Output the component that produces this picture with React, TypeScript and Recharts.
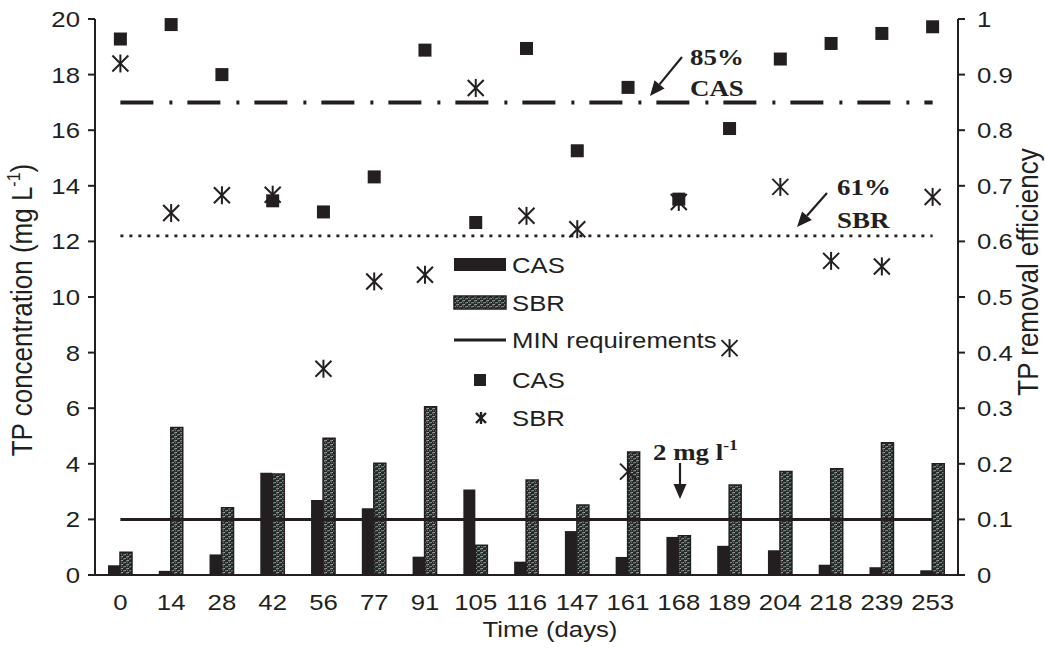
import React from 'react';
import {
  ComposedChart,
  Bar,
  Line,
  Scatter,
  XAxis,
  YAxis,
  ReferenceLine,
  Legend,
  Customized,
} from 'recharts';

const days = ['0', '14', '28', '42', '56', '77', '91', '105', '116', '147', '161', '168', '189', '204', '218', '239', '253'];
const casConc = [0.35, 0.15, 0.74, 3.68, 2.7, 2.4, 0.66, 3.08, 0.48, 1.58, 0.65, 1.37, 1.05, 0.89, 0.37, 0.28, 0.17];
const sbrConc = [0.82, 5.31, 2.42, 3.63, 4.92, 4.02, 6.05, 1.07, 3.42, 2.52, 4.42, 1.41, 3.24, 3.72, 3.82, 4.76, 4.0];
const minReq = [2, 2, 2, 2, 2, 2, 2, 2, 2, 2, 2, 2, 2, 2, 2, 2, 2];
const casEff = [0.964, 0.99, 0.9, 0.673, 0.653, 0.716, 0.944, 0.634, 0.947, 0.763, 0.877, 0.676, 0.803, 0.928, 0.956, 0.974, 0.986];
const sbrEff = [0.92, 0.651, 0.683, 0.684, 0.371, 0.528, 0.54, 0.876, 0.646, 0.622, 0.186, 0.671, 0.408, 0.698, 0.565, 0.555, 0.68];
const leftTicks = [0, 2, 4, 6, 8, 10, 12, 14, 16, 18, 20];
const rightTicks = [0, 0.1, 0.2, 0.3, 0.4, 0.5, 0.6, 0.7, 0.8, 0.9, 1];
const rightTickLabels = ['0', '0.1', '0.2', '0.3', '0.4', '0.5', '0.6', '0.7', '0.8', '0.9', '1'];
const casTarget = 0.85;
const sbrTarget = 0.61;

const data = days.map((d, i) => ({
  day: d,
  casConc: casConc[i],
  sbrConc: sbrConc[i],
  minReq: minReq[i],
  casEff: casEff[i],
  sbrEff: sbrEff[i],
}));

const INK = '#231f20';
const SANS = '"Liberation Sans", Arial, Helvetica, sans-serif';
const SERIF = '"Liberation Serif", "Times New Roman", serif';
const SX = 1.17;

const STxt = ({ x, y, anchor = 'start', size = 22, bold = false, serif = false, children }: any) => (
  <g transform={`translate(${x},${y}) scale(${SX},1)`}>
    <text
      x={0}
      y={0}
      textAnchor={anchor}
      fontSize={size}
      fontWeight={bold ? 'bold' : 'normal'}
      fontFamily={serif ? SERIF : SANS}
      fill={INK}
    >
      {children}
    </text>
  </g>
);

const LeftTick = ({ x, y, payload }: any) => (
  <STxt x={x} y={y + 8} anchor="end">
    {String(payload.value)}
  </STxt>
);

const RightTick = ({ x, y, payload, index }: any) => (
  <STxt x={x} y={y + 8} anchor="start">
    {rightTickLabels[index] ?? String(payload.value)}
  </STxt>
);

const BottomTick = ({ x, y, payload }: any) => (
  <STxt x={x} y={y + 7} anchor="middle">
    {payload.value}
  </STxt>
);

const Square = ({ cx, cy }: any) =>
  cx == null ? null : <rect x={cx - 6.5} y={cy - 6.5} width={13} height={13} fill={INK} />;

const Asterisk = ({ cx, cy }: any) =>
  cx == null ? null : (
    <g stroke={INK} strokeWidth={2}>
      <line x1={cx} y1={cy - 9} x2={cx} y2={cy + 9} />
      <line x1={cx - 8} y1={cy - 8} x2={cx + 8} y2={cy + 8} />
      <line x1={cx - 8} y1={cy + 8} x2={cx + 8} y2={cy - 8} />
    </g>
  );

const Arrow = ({ x1, y1, x2, y2 }: any) => {
  const dx = x2 - x1;
  const dy = y2 - y1;
  const len = Math.sqrt(dx * dx + dy * dy);
  const ux = dx / len;
  const uy = dy / len;
  const hl = 15;
  const hw = 6.5;
  const bx = x2 - ux * hl;
  const by = y2 - uy * hl;
  const px = -uy;
  const py = ux;
  return (
    <g>
      <line x1={x1} y1={y1} x2={bx} y2={by} stroke={INK} strokeWidth={2.2} />
      <polygon
        points={`${x2},${y2} ${bx + px * hw},${by + py * hw} ${bx - px * hw},${by - py * hw}`}
        fill={INK}
      />
    </g>
  );
};

const Annotations = () => (
  <g>
    <STxt x={690} y={65} size={23} bold serif>85%</STxt>
    <STxt x={690} y={96} size={23} bold serif>CAS</STxt>
    <Arrow x1={682} y1={57} x2={650} y2={96} />
    <STxt x={837} y={195} size={23} bold serif>61%</STxt>
    <STxt x={837} y={228} size={23} bold serif>SBR</STxt>
    <Arrow x1={827} y1={193} x2={797} y2={227} />
    <g transform={`translate(653,460) scale(${SX},1)`}>
      <text x={0} y={0} fontSize={23} fontWeight="bold" fontFamily={SERIF} fill={INK}>
        2 mg l
        <tspan fontSize={15} dy={-10}>-1</tspan>
      </text>
    </g>
    <Arrow x1={680} y1={463} x2={680} y2={499} />
  </g>
);

const LeftLabel = () => (
  <g transform={`translate(32,310) scale(${SX},1) rotate(-90)`}>
    <text x={0} y={0} textAnchor="middle" fontSize={26} fontFamily={SANS} fill={INK}>
      TP concentration (mg L
      <tspan fontSize={16} dy={-10}>-1</tspan>
      <tspan dy={10}>)</tspan>
    </text>
  </g>
);

const RightLabel = () => (
  <g transform={`translate(1038,272) scale(${SX},1) rotate(-90)`}>
    <text x={0} y={0} textAnchor="middle" fontSize={26} fontFamily={SANS} fill={INK}>
      TP removal efficiency
    </text>
  </g>
);

const BottomLabel = () => <STxt x={550} y={637} anchor="middle" size={22}>Time (days)</STxt>;

const LegendBox = () => (
  <svg width={320} height={190} style={{ overflow: 'visible' }}>
    <rect x={4} y={10} width={52} height={13} fill={INK} />
    <STxt x={62} y={25}>CAS</STxt>
    <rect x={4} y={48} width={52} height={13} fill="url(#sbrHatch)" stroke={INK} strokeWidth={1.5} />
    <STxt x={62} y={63}>SBR</STxt>
    <line x1={4} y1={92} x2={56} y2={92} stroke={INK} strokeWidth={3} />
    <STxt x={62} y={100}>MIN requirements</STxt>
    <rect x={24} y={126} width={12} height={12} fill={INK} />
    <STxt x={62} y={140}>CAS</STxt>
    <g stroke={INK} strokeWidth={2.4}>
      <line x1={31} y1={164} x2={31} y2={176} />
      <line x1={26} y1={165} x2={36} y2={175} />
      <line x1={26} y1={175} x2={36} y2={165} />
    </g>
    <STxt x={62} y={178}>SBR</STxt>
  </svg>
);

export default function App() {
  return (
    <div style={{ position: 'absolute', left: 0, top: 0, width: 1045, height: 648, background: '#fff' }}>
      <svg width={0} height={0} style={{ position: 'absolute' }}>
        <defs>
          <pattern id="sbrHatch" patternUnits="userSpaceOnUse" width={6} height={4}>
            <rect x={0} y={0} width={6} height={4} fill="#262626" />
            <path d="M0,1 L3,0.5" stroke="#bdbdbd" strokeWidth={0.9} />
            <path d="M3,3 L6,2.5" stroke="#7fb3a8" strokeWidth={0.9} />
            <path d="M1,2.6 L2,2.6" stroke="#c97a7a" strokeWidth={0.7} />
          </pattern>
        </defs>
      </svg>
      <ComposedChart
        width={1045}
        height={648}
        data={data}
        margin={{ top: 19, right: 0, bottom: 0, left: 0 }}
        barGap={0}
      >
        <XAxis
          dataKey="day"
          xAxisId={0}
          height={73}
          tickLine={false}
          tickSize={0}
          tickMargin={28}
          axisLine={{ stroke: INK, strokeWidth: 2 }}
          tick={<BottomTick />}
          interval={0}
        />
        <YAxis
          yAxisId="left"
          orientation="left"
          width={95}
          domain={[0, 20]}
          ticks={leftTicks}
          interval={0}
          tickSize={7}
          tickMargin={8}
          tickLine={{ stroke: INK, strokeWidth: 2 }}
          axisLine={{ stroke: INK, strokeWidth: 2 }}
          tick={<LeftTick />}
        />
        <YAxis
          yAxisId="right"
          orientation="right"
          width={87}
          domain={[0, 1]}
          ticks={rightTicks}
          interval={0}
          tickSize={7}
          tickMargin={12}
          tickLine={{ stroke: INK, strokeWidth: 2 }}
          axisLine={{ stroke: INK, strokeWidth: 2 }}
          tick={<RightTick />}
        />
        <Bar yAxisId="left" dataKey="casConc" name="CAS" fill={INK} barSize={12} isAnimationActive={false} />
        <Bar
          yAxisId="left"
          dataKey="sbrConc"
          name="SBR"
          fill="url(#sbrHatch)"
          stroke={INK}
          strokeWidth={1.5}
          barSize={12}
          isAnimationActive={false}
        />
        <Line
          yAxisId="left"
          dataKey="minReq"
          name="MIN requirements"
          stroke={INK}
          strokeWidth={3}
          dot={false}
          activeDot={false}
          type="linear"
          isAnimationActive={false}
        />
        <ReferenceLine
          yAxisId="right"
          segment={[{ x: days[0], y: casTarget }, { x: days[days.length - 1], y: casTarget }]}
          stroke={INK}
          strokeWidth={4}
          strokeDasharray="33 16 3 15"
        />
        <ReferenceLine
          yAxisId="right"
          segment={[{ x: days[0], y: sbrTarget }, { x: days[days.length - 1], y: sbrTarget }]}
          stroke={INK}
          strokeWidth={2.6}
          strokeDasharray="3 6"
        />
        <Scatter yAxisId="right" dataKey="casEff" name="CAS" shape={<Square />} isAnimationActive={false} />
        <Scatter yAxisId="right" dataKey="sbrEff" name="SBR" shape={<Asterisk />} isAnimationActive={false} />
        <Customized component={<Annotations />} />
        <Customized component={<LeftLabel />} />
        <Customized component={<RightLabel />} />
        <Customized component={<BottomLabel />} />
        <Legend
          layout="vertical"
          align="center"
          verticalAlign="middle"
          wrapperStyle={{ left: 450, top: 248, width: 320, height: 190 }}
          content={() => <LegendBox />}
        />
      </ComposedChart>
    </div>
  );
}
